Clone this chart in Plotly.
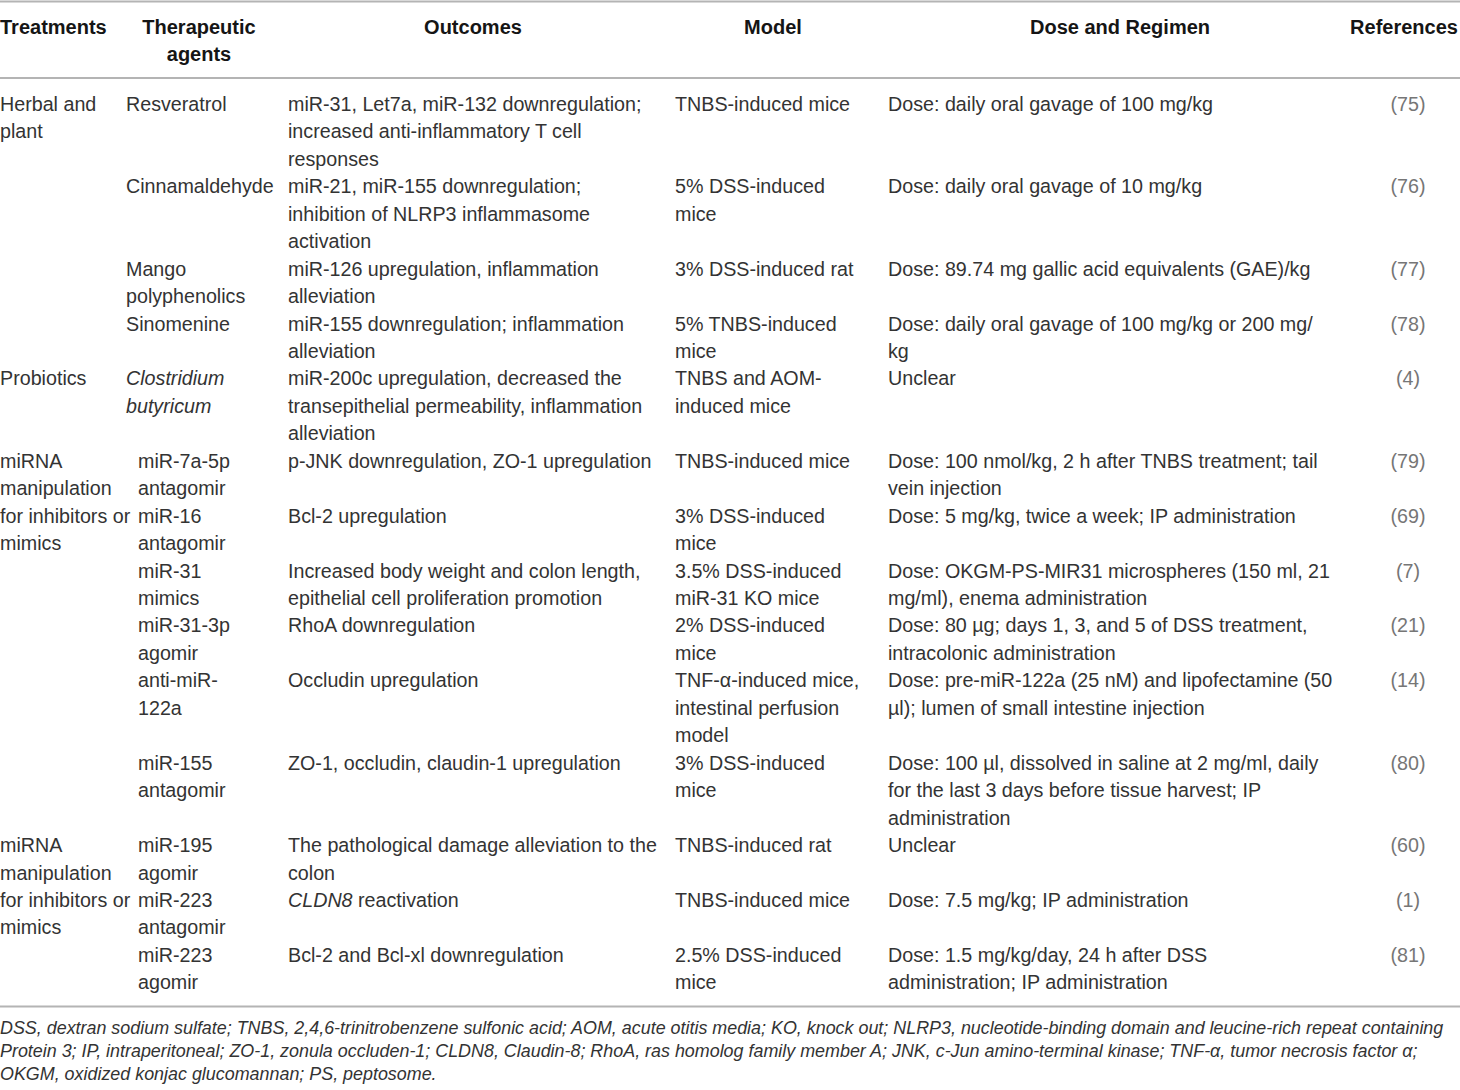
import plotly.graph_objects as go

# ---------------- data ----------------
headers = ["Treatments", "Therapeutic<br>agents", "Outcomes", "Model", "Dose and Regimen", "References"]

treatment_groups = [
    ("Herbal and<br>plant", 0),
    ("Probiotics", 4),
    ("miRNA<br>manipulation<br>for inhibitors or<br>mimics", 5),
    ("miRNA<br>manipulation<br>for inhibitors or<br>mimics", 11),
]

agents = [
    "Resveratrol",
    "Cinnamaldehyde",
    "Mango<br>polyphenolics",
    "Sinomenine",
    "<i>Clostridium</i><br><i>butyricum</i>",
    "miR-7a-5p<br>antagomir",
    "miR-16<br>antagomir",
    "miR-31<br>mimics",
    "miR-31-3p<br>agomir",
    "anti-miR-<br>122a",
    "miR-155<br>antagomir",
    "miR-195<br>agomir",
    "miR-223<br>antagomir",
    "miR-223<br>agomir",
]

outcomes = [
    "miR-31, Let7a, miR-132 downregulation;<br>increased anti-inflammatory T cell<br>responses",
    "miR-21, miR-155 downregulation;<br>inhibition of NLRP3 inflammasome<br>activation",
    "miR-126 upregulation, inflammation<br>alleviation",
    "miR-155 downregulation; inflammation<br>alleviation",
    "miR-200c upregulation, decreased the<br>transepithelial permeability, inflammation<br>alleviation",
    "p-JNK downregulation, ZO-1 upregulation",
    "Bcl-2 upregulation",
    "Increased body weight and colon length,<br>epithelial cell proliferation promotion",
    "RhoA downregulation",
    "Occludin upregulation",
    "ZO-1, occludin, claudin-1 upregulation",
    "The pathological damage alleviation to the<br>colon",
    "<i>CLDN8</i> reactivation",
    "Bcl-2 and Bcl-xl downregulation",
]

models = [
    "TNBS-induced mice",
    "5% DSS-induced<br>mice",
    "3% DSS-induced rat",
    "5% TNBS-induced<br>mice",
    "TNBS and AOM-<br>induced mice",
    "TNBS-induced mice",
    "3% DSS-induced<br>mice",
    "3.5% DSS-induced<br>miR-31 KO mice",
    "2% DSS-induced<br>mice",
    "TNF-α-induced mice,<br>intestinal perfusion<br>model",
    "3% DSS-induced<br>mice",
    "TNBS-induced rat",
    "TNBS-induced mice",
    "2.5% DSS-induced<br>mice",
]

doses = [
    "Dose: daily oral gavage of 100 mg/kg",
    "Dose: daily oral gavage of 10 mg/kg",
    "Dose: 89.74 mg gallic acid equivalents (GAE)/kg",
    "Dose: daily oral gavage of 100 mg/kg or 200 mg/<br>kg",
    "Unclear",
    "Dose: 100 nmol/kg, 2 h after TNBS treatment; tail<br>vein injection",
    "Dose: 5 mg/kg, twice a week; IP administration",
    "Dose: OKGM-PS-MIR31 microspheres (150 ml, 21<br>mg/ml), enema administration",
    "Dose: 80 µg; days 1, 3, and 5 of DSS treatment,<br>intracolonic administration",
    "Dose: pre-miR-122a (25 nM) and lipofectamine (50<br>µl); lumen of small intestine injection",
    "Dose: 100 µl, dissolved in saline at 2 mg/ml, daily<br>for the last 3 days before tissue harvest; IP<br>administration",
    "Unclear",
    "Dose: 7.5 mg/kg; IP administration",
    "Dose: 1.5 mg/kg/day, 24 h after DSS<br>administration; IP administration",
]

references = ["(75)", "(76)", "(77)", "(78)", "(4)", "(79)", "(69)", "(7)", "(21)", "(14)", "(80)", "(60)", "(1)", "(81)"]

footnote = [
    "DSS, dextran sodium sulfate; TNBS, 2,4,6-trinitrobenzene sulfonic acid; AOM, acute otitis media; KO, knock out; NLRP3, nucleotide-binding domain and leucine-rich repeat containing",
    "Protein 3; IP, intraperitoneal; ZO-1, zonula occluden-1; CLDN8, Claudin-8; RhoA, ras homolog family member A; JNK, c-Jun amino-terminal kinase; TNF-α, tumor necrosis factor α;",
    "OKGM, oxidized konjac glucomannan; PS, peptosome.",
]

# ---------------- layout / style ----------------
W, H = 1460, 1090
FONT = "Liberation Sans, Arial, sans-serif"
BODY_SIZE = 19.7
BODY_COLOR = "#333333"
REF_COLOR = "#767676"
HEAD_COLOR = "#151515"
LINE_H = 27.45
BODY_Y0 = 106
HEAD_Y0 = 29
HEAD_LINE_H = 27.2
RULE_COLOR = "#b4b4b4"

col_left = [0, 126, 288, 675, 888]
indent_rows = set(range(5, 14))
agent_indent = 12
head_centers = [None, 199, 473, 773, 1120, 1404]
ref_center = 1408

def lines(s):
    return s.split("<br>")

# row start line indices
row_lines = [max(len(lines(c)) for c in (agents[i], outcomes[i], models[i], doses[i])) for i in range(len(agents))]
row_start = []
acc = 0
for n in row_lines:
    row_start.append(acc)
    acc += n

def ypos(line_idx):
    return BODY_Y0 + line_idx * LINE_H

fig = go.Figure()

def add_text(xs, ys, texts, pos, size, color, family=FONT):
    fig.add_trace(go.Scatter(x=xs, y=ys, text=texts, mode="text", textposition=pos,
                             textfont=dict(family=family, size=size, color=color),
                             hoverinfo="skip", showlegend=False))

# headers
hx, hy, ht = [], [], []
for j, h in enumerate(headers):
    for k, ln in enumerate(lines(h)):
        hy.append(HEAD_Y0 + k * HEAD_LINE_H)
        ht.append("<b>" + ln + "</b>")
        hx.append(head_centers[j] if head_centers[j] is not None else 0)
add_text([hx[0]], [hy[0]], [ht[0]], "middle right", 20, HEAD_COLOR)
add_text(hx[1:], hy[1:], ht[1:], "middle center", 20, HEAD_COLOR)

# treatments column
tx, ty, tt = [], [], []
for label, r in treatment_groups:
    for k, ln in enumerate(lines(label)):
        tx.append(col_left[0]); ty.append(ypos(row_start[r] + k)); tt.append(ln)
add_text(tx, ty, tt, "middle right", BODY_SIZE, BODY_COLOR)

# body columns
for c, col in enumerate([agents, outcomes, models, doses], start=1):
    xs, ys, ts = [], [], []
    for i, cell in enumerate(col):
        x0 = col_left[c] + (agent_indent if (c == 1 and i in indent_rows) else 0)
        for k, ln in enumerate(lines(cell)):
            xs.append(x0); ys.append(ypos(row_start[i] + k)); ts.append(ln)
    add_text(xs, ys, ts, "middle right", BODY_SIZE, BODY_COLOR)

# references
add_text([ref_center] * len(references), [ypos(s) for s in row_start], references,
         "middle center", BODY_SIZE, REF_COLOR)

# footnote
add_text([0] * len(footnote), [1029.5 + k * 23.1 for k in range(len(footnote))],
         ["<i>" + f + "</i>" for f in footnote], "middle right", 17.9, BODY_COLOR)

# rules
for y in [1.5, 78, 1006.5]:
    fig.add_shape(type="line", xref="x", yref="y", x0=0, x1=W, y0=y, y1=y,
                  line=dict(color=RULE_COLOR, width=2.2))

fig.update_layout(
    width=W, height=H, margin=dict(l=0, r=0, t=0, b=0),
    paper_bgcolor="white", plot_bgcolor="white",
    xaxis=dict(range=[0, W], visible=False, fixedrange=True),
    yaxis=dict(range=[H, 0], visible=False, fixedrange=True),
)

fig.write_html("out.html", config={"displayModeBar": False},
               post_script="document.body.style.margin='0';document.body.style.overflow='hidden';")
